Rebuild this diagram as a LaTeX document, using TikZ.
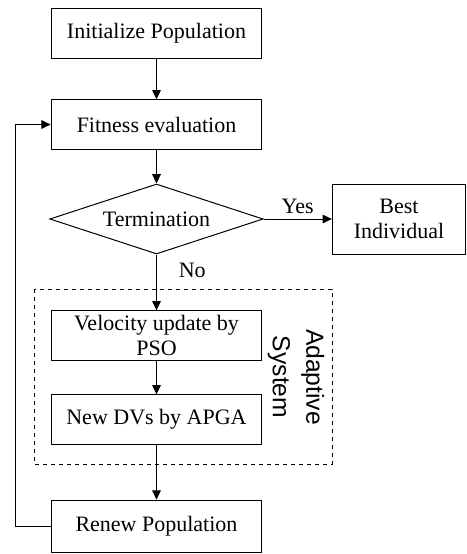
\documentclass[tikz,border=0pt]{standalone}
\usepackage{fontspec}
\setmainfont{Liberation Serif}
\newfontfamily\adaptfont{Liberation Sans}
\usepackage{tikz}
\usetikzlibrary{arrows.meta,shapes.geometric,positioning}
\tikzstyle{every node}=[font=\fontsize{16.5}{19}\selectfont, text centered]
\tikzstyle{block} = [draw, rectangle, minimum width=158pt, minimum height=37pt, inner sep=0pt, align=center]
\tikzstyle{decision} = [draw, diamond, minimum width=160pt, minimum height=52.5pt, aspect=3, inner sep=0pt]
\tikzstyle{line} = [draw, -{Triangle[length=7pt,width=6.5pt]}]
\begin{document}
\begin{tikzpicture}[x=0.75pt,y=-0.75pt,line width=0.75pt]
    \useasboundingbox (0,0) rectangle (467,554);

    \node [block] (initNode) at (156.5,33.5) {Initialize Population};
    \node [block] (fitNode) at (156.5,124.5) {Fitness evaluation};
    \node [decision] (termNode) at (156.5,219) {Termination};
    \node [block, minimum width=100pt, minimum height=52.5pt] (bestNode) at (399,219) {Best\\Individual};
    \node [block] (veloNode) at (156.5,335.5) {Velocity update by\\PSO};
    \node [block] (dvNode) at (156.5,419.5) {New DVs by APGA};
    \node [block, minimum height=39.5pt] (renewNode) at (156.5,526.5) {Renew Population};

    % adaptive system frame
    \draw[dashed, line width=0.6pt] (34,289) rectangle (332,464);
    \node [rotate=-90, align=center, font=\adaptfont\fontsize{18.5}{25}\selectfont] (adaptNode) at (296,377) {Adaptive\\System};

    \path [line] (initNode) -- (fitNode);
    \path [line] (fitNode) -- (termNode);
    \path [line] (termNode) -- (bestNode) node[above, midway]{Yes};
    \path [line] (termNode) -- (veloNode) node[right=13pt, pos=0.28]{No};
    \path [line] (veloNode) -- (dvNode);
    \path [line] (dvNode) -- (renewNode);
    \path [line] (renewNode.west) -- ++(-35,0) |- (fitNode.west);
\end{tikzpicture}
\end{document}
